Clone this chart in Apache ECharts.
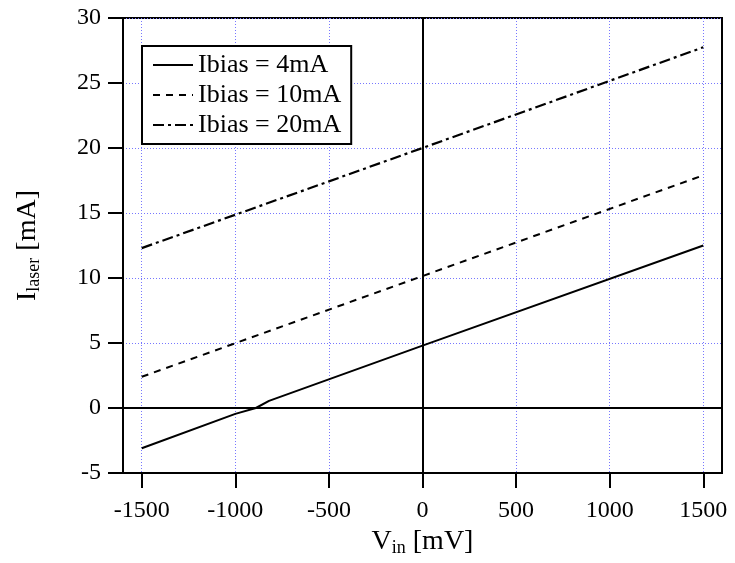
<!DOCTYPE html>
<html>
<head>
<meta charset="utf-8">
<script src="https://cdn.jsdelivr.net/npm/echarts@6/dist/echarts.min.js"></script>
<style>
  html, body { margin: 0; padding: 0; background: #fff; }
  #main { width: 735px; height: 563px; }
</style>
</head>
<body>
<div id="main"></div>
<script>
// V_in in mV, I_laser in mA
var vin4 = [-1500, -1000, -890, -820, 0, 1500];
var ilaser4 = [-3.1, -0.45, 0, 0.55, 4.8, 12.5];
var vin10 = [-1500, 0, 1500];
var ilaser10 = [2.4, 10.15, 17.9];
var vin20 = [-1500, 0, 1500];
var ilaser20 = [12.3, 20.0, 27.75];

var xTicks = [-1500, -1000, -500, 0, 500, 1000, 1500];
var seriesNames = ["Ibias = 4mA", "Ibias = 10mA", "Ibias = 20mA"];

var font = "'Liberation Serif', 'DejaVu Serif', serif";

function pairs(xs, ys) {
  return xs.map(function (x, i) { return [x, ys[i]]; });
}

var chart = echarts.init(document.getElementById("main"));

var option = {
  animation: false,
  grid: {
    left: 123,
    right: 13,
    top: 18,
    bottom: 90,
    outerBoundsMode: "none",
    show: true,
    borderColor: "#000",
    borderWidth: 2
  },
  legend: {
    orient: "vertical",
    left: 142,
    top: 46,
    padding: [6, 10, 6, 10],
    itemGap: 4,
    itemWidth: 40,
    itemHeight: 16,
    borderColor: "#000",
    borderWidth: 2,
    backgroundColor: "#fff",
    itemStyle: { color: "transparent", borderWidth: 0 },
    lineStyle: { width: 2 },
    textStyle: { fontFamily: font, fontSize: 26, color: "#000" },
    data: seriesNames
  },
  xAxis: {
    type: "value",
    min: -1600,
    max: 1600,
    name: "{a|V}{s|in}{a| [mV]}",
    nameLocation: "middle",
    nameGap: 54,
    nameTextStyle: {
      rich: {
        a: { fontFamily: font, fontSize: 28, color: "#000" },
        s: { fontFamily: font, fontSize: 18, color: "#000", padding: [12, 0, 0, 0] }
      }
    },
    axisLine: { onZero: false, lineStyle: { color: "#000", width: 2 } },
    axisTick: { inside: false, length: 15, customValues: xTicks, lineStyle: { color: "#000", width: 2 } },
    axisLabel: {
      customValues: xTicks,
      margin: 26,
      fontFamily: font,
      fontSize: 24,
      color: "#000",
      formatter: function (v) { return String(v); }
    },
    splitLine: { show: true, lineStyle: { color: "#7777ff", width: 1, type: [1, 2] } }
  },
  yAxis: {
    type: "value",
    min: -5,
    max: 30,
    interval: 5,
    name: "{a|I}{s|laser}{a| [mA]}",
    nameLocation: "middle",
    nameRotate: 90,
    nameGap: 80,
    nameTextStyle: {
      rich: {
        a: { fontFamily: font, fontSize: 28, color: "#000" },
        s: { fontFamily: font, fontSize: 18, color: "#000", padding: [12, 0, 0, 0] }
      }
    },
    axisLine: { onZero: false, lineStyle: { color: "#000", width: 2 } },
    axisTick: { inside: false, length: 15, lineStyle: { color: "#000", width: 2 } },
    axisLabel: { margin: 22, fontFamily: font, fontSize: 24, color: "#000" },
    splitLine: { show: true, lineStyle: { color: "#7777ff", width: 1, type: [1, 2] } }
  },
  series: [
    {
      name: seriesNames[0],
      type: "line",
      symbol: "none",
      data: pairs(vin4, ilaser4),
      lineStyle: { color: "#000", width: 2, type: "solid" },
      itemStyle: { color: "#000" },
      markLine: {
        silent: true,
        symbol: "none",
        label: { show: false },
        lineStyle: { color: "#000", width: 2, type: "solid" },
        data: [{ xAxis: 0 }, { yAxis: 0 }]
      }
    },
    {
      name: seriesNames[1],
      type: "line",
      symbol: "none",
      data: pairs(vin10, ilaser10),
      lineStyle: { color: "#000", width: 2, type: [7, 6] },
      itemStyle: { color: "#000" }
    },
    {
      name: seriesNames[2],
      type: "line",
      symbol: "none",
      data: pairs(vin20, ilaser20),
      lineStyle: { color: "#000", width: 2.2, type: [11, 4, 3, 4] },
      itemStyle: { color: "#000" }
    }
  ]
};

chart.setOption(option);
</script>
</body>
</html>
